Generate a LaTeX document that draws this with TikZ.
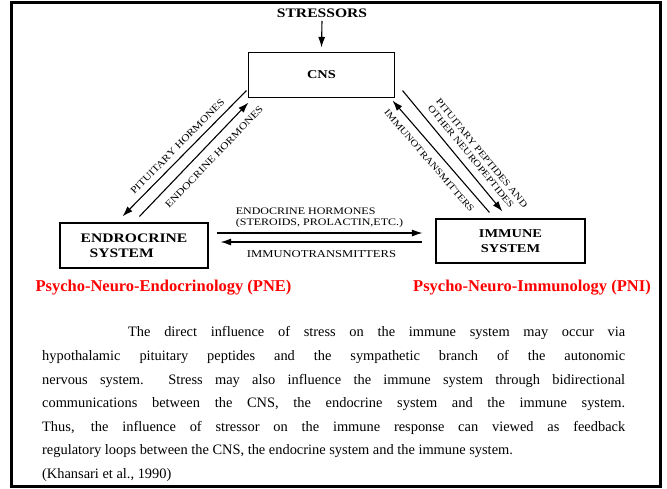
\documentclass[tikz,border=0pt]{standalone}
\usepackage{fontspec}
\setmainfont{Liberation Serif}
\newfontfamily\diagfont[FakeStretch=1.2]{Liberation Serif}
\usetikzlibrary{positioning, arrows.meta, calc}

\begin{document}
\begin{tikzpicture}[
    x=1pt, y=-1pt,
    sysbox/.style={rectangle, draw, line width=1.1pt, inner sep=0pt, align=center,
      font=\diagfont\bfseries\fontsize{12}{15}\selectfont},
    arrow/.style={-{Latex[length=10.5pt,width=7pt]}, line width=1.1pt},
    backarrow/.style={{Latex[length=10.5pt,width=7pt]}-, line width=1.1pt},
    lbl/.style={font=\diagfont\fontsize{9.3}{10.5}\selectfont, inner sep=1pt},
    hlbl/.style={font=\diagfont\fontsize{10}{11}\selectfont, inner sep=1pt},
    field/.style={font=\bfseries\fontsize{16.5}{18}\selectfont, text=red},
    para/.style={font=\fontsize{14.4}{23.6}\selectfont, inner sep=0pt, text width=583pt, align=justify}
  ]
  \useasboundingbox (0,0) rectangle (667,488);
  \draw[line width=3pt] (11,2) rectangle (660,486);

  % Nodes
  \node[font=\diagfont\bfseries\fontsize{13}{15}\selectfont] (stress) at (322,13) {STRESSORS};
  \node[sysbox, minimum width=146pt, minimum height=45pt] (cns) at (321.5,75) {CNS};
  \node[sysbox, minimum width=148pt, minimum height=45pt, align=left,
        font=\diagfont\bfseries\fontsize{13}{15}\selectfont] (endo) at (134,245.5) {ENDROCRINE\\\hspace*{9pt}SYSTEM};
  \node[sysbox, minimum width=149pt, minimum height=44pt] (immune) at (510.5,241) {IMMUNE\\SYSTEM};

  \node[field] (pne) at (163.5,288) {Psycho-Neuro-Endocrinology (PNE)};
  \node[field] (pni) at (532,288) {Psycho-Neuro-Immunology (PNI)};

  \node[para, anchor=north west] (summary) at (42,326.5) {\hyphenpenalty=10000
    \hspace*{86pt}The direct influence of stress on the immune system may occur via\linebreak
    hypothalamic pituitary peptides and the sympathetic branch of the autonomic\linebreak
    nervous system.\ \ Stress may also influence the immune system through bidirectional\linebreak
    communications between the CNS, the endocrine system and the immune system.\linebreak
    Thus, the influence of stressor on the immune response can viewed as feedback\linebreak
    regulatory loops between the CNS, the endocrine system and the immune system.\\
    (Khansari et al., 1990)};

  % Arrows
  \draw[arrow] (stress.south) -- ([yshift=4.5pt]cns.north);

  \draw[backarrow] ([xshift=63pt,yshift=6pt]endo.north west) -- ([xshift=-1.5pt,yshift=7.5pt]cns.south west)
    node[lbl, midway, sloped, above=5pt, font=\diagfont\fontsize{9.8}{11}\selectfont] (pithorm) {PITUITARY HORMONES};
  \draw[arrow] ([xshift=80pt,yshift=6pt]endo.north west) -- ([xshift=0.5pt,yshift=-4.5pt]cns.south west)
    node[lbl, pos=0.6, sloped, below=8pt, font=\diagfont\fontsize{9.8}{11}\selectfont] (endhorm) {ENDOCRINE HORMONES};

  \draw[arrow] ([xshift=7.5pt,yshift=7.5pt]cns.south east) -- ([xshift=67pt,yshift=7pt]immune.north west)
    node[lbl, pos=0.63, sloped, above=6pt, align=left] (peptides) {PITUITARY PEPTIDES AND\\OTHER NEUROPEPTIDES};
  \draw[backarrow] ([xshift=-2.5pt,yshift=-2.5pt]cns.south east) -- ([xshift=54pt,yshift=6pt]immune.north west)
    node[lbl, pos=0.47, sloped, below=7pt] (immtrans) {IMMUNOTRANSMITTERS};

  \draw[arrow] ([xshift=8pt,yshift=12.5pt]endo.east) -- ([xshift=-13pt,yshift=8pt]immune.west)
    node[hlbl, midway, above=4pt, align=left] (steroids) {ENDOCRINE HORMONES\\(STEROIDS, PROLACTIN,ETC.)};
  \draw[backarrow] ([xshift=12pt,yshift=3.5pt]endo.east) -- ([xshift=-13pt,yshift=-1pt]immune.west)
    node[hlbl, midway, below=7pt, font=\diagfont\fontsize{10.5}{12}\selectfont] (immtrans2) {IMMUNOTRANSMITTERS};
\end{tikzpicture}
\end{document}
